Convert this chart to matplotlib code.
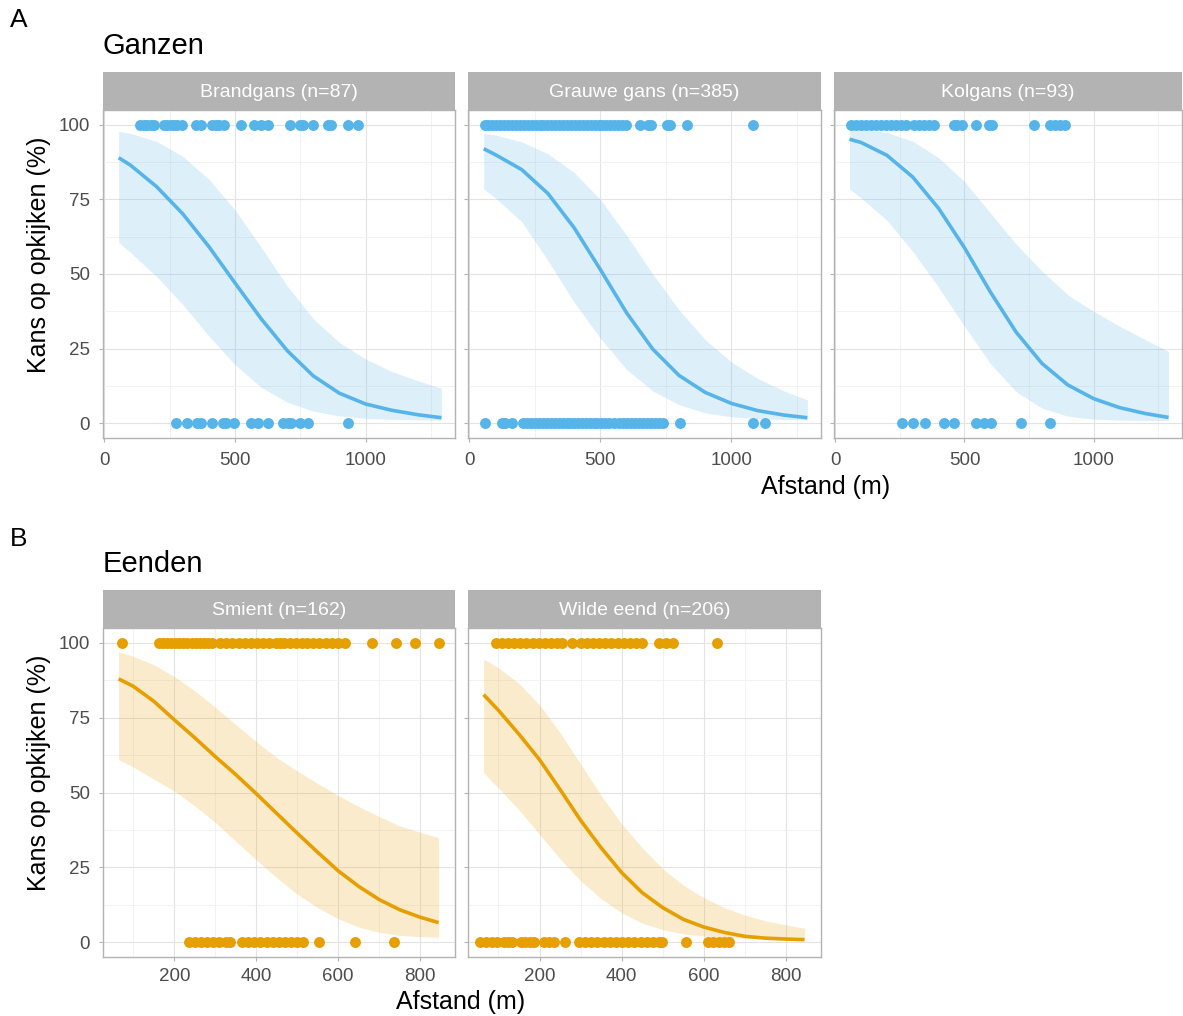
# Kans op opkijken vs afstand - ganzen en eenden (facetten)

import numpy as np
import matplotlib.pyplot as plt

plt.rcParams['font.family'] = ['Liberation Sans', 'DejaVu Sans']

blauw = '#56B4E9'
oranje = '#E69F00'

# ---- Ganzen ----
gans_namen = ['Brandgans (n=87)', 'Grauwe gans (n=385)', 'Kolgans (n=93)']
gans_x = [55, 100, 200, 300, 400, 500, 600, 700, 800, 900, 1000, 1100, 1200, 1290]

brand_fit = [89, 86.5, 79.3, 70.2, 59.2, 47, 35, 24.3, 15.8, 10, 6.4, 4.3, 2.8, 1.8]
brand_hoog = [97.8, 97.2, 94.5, 89.5, 81.8, 71.5, 59, 46, 35, 27, 21.5, 17.3, 14.2, 11.7]
brand_laag = [60.6, 57.2, 49.2, 39.8, 29.2, 19.6, 12, 7, 4, 2.4, 1.6, 1.25, 1.1, 1.0]
brand_ja = [138, 151, 164, 177, 190, 228, 241, 254, 267, 280, 299, 350, 369, 414, 427,
            440, 459, 523, 574, 600, 626, 709, 747, 760, 799, 856, 869, 933, 972]
brand_nee = [273, 315, 354, 369, 414, 453, 465, 497, 562, 587, 626, 683, 703, 715, 747, 780, 933]

grauw_fit = [92, 90, 85, 77, 65.5, 51.5, 37, 24.8, 16, 10.3, 6.6, 4.2, 2.7, 1.8]
grauw_hoog = [97.2, 96.6, 94.3, 90.3, 84, 75, 63, 50, 38, 28, 20.5, 15, 10.8, 7.8]
grauw_laag = [78.5, 75.5, 67.5, 54.5, 40.5, 28.5, 18, 10.8, 6.2, 3.4, 2.1, 1.5, 1.2, 1.1]
grauw_ja = [58, 73, 88, 103, 118, 133, 148, 163, 178, 193, 208, 223, 238, 253, 268, 283,
            298, 313, 328, 343, 358, 373, 388, 403, 418, 433, 448, 463, 478, 493, 508, 523,
            538, 553, 568, 583, 598, 650, 682, 695, 753, 766, 830, 1081]
grauw_nee = [58, 125, 135, 163, 206, 221, 236, 251, 266, 281, 296, 311, 326, 341, 356, 371,
             386, 401, 416, 431, 444, 459, 474, 489, 504, 519, 534, 553, 573, 588, 603, 618,
             633, 648, 663, 678, 693, 708, 723, 740, 804, 1081, 1130]

kol_fit = [95.2, 94.1, 89.8, 82.5, 72, 58.8, 44, 30.5, 20, 12.8, 8.2, 5.2, 3.2, 1.9]
kol_hoog = [98.9, 98.5, 97.5, 94.5, 89, 81, 70.5, 60, 51, 43, 37.5, 32.5, 28, 24]
kol_laag = [78.5, 75.5, 68, 57.5, 45.5, 32.5, 20, 10.5, 5, 2.3, 1.3, 1, 0.9, 0.8]
kol_ja = [60, 80, 99, 118, 138, 157, 176, 196, 215, 234, 254, 273, 305, 324, 344, 363, 382,
          459, 472, 492, 543, 595, 607, 768, 833, 852, 871, 891]
kol_nee = [260, 301, 346, 421, 459, 543, 575, 601, 717, 833]

# ---- Eenden ----
eend_namen = ['Smient (n=162)', 'Wilde eend (n=206)']
eend_x = [64, 100, 150, 200, 250, 300, 350, 400, 450, 500, 550, 600, 650, 700, 750, 800, 845]

smient_fit = [88, 85.5, 80.5, 74.3, 68.3, 62, 56, 49.6, 43, 36.4, 30, 23.8, 18.6, 14.2, 10.8, 8.3, 6.5]
smient_hoog = [97.1, 95.5, 92.7, 88.8, 84, 78.5, 72.7, 67, 61.7, 57.2, 53, 49, 45.3, 42, 38.8, 36.7, 34.9]
smient_laag = [61, 58.5, 54.5, 50.5, 45.5, 40, 33.7, 27.5, 21.5, 16, 11.5, 7.8, 5, 3.3, 2.2, 1.8, 1.6]
smient_ja = [72, 162, 172, 182, 192, 202, 212, 222, 232, 242, 252, 262, 272, 282, 292,
             312, 327, 342, 357, 372, 387, 402, 417, 432, 447, 459, 467, 482, 497, 511,
             524, 539, 554, 569, 584, 599, 617, 682, 741, 788, 845]
smient_nee = [235, 250, 265, 280, 295, 310, 325, 337, 365, 380, 395, 410, 425, 440, 455,
              470, 485, 500, 515, 552, 641, 735]

wilde_fit = [82.7, 77.5, 69.5, 61, 51, 40.7, 31.5, 23.2, 16.5, 11.5, 7.6, 5, 3.2, 1.9, 1.3, 1, 0.8]
wilde_hoog = [94.6, 91.7, 86.5, 79.3, 70, 59.5, 49, 39.5, 31.5, 24.5, 19, 14.8, 11.5, 9, 7.1, 5.7, 4.6]
wilde_laag = [56.6, 51.5, 44.2, 36, 27.8, 20.5, 14.5, 9.8, 6.3, 4.2, 2.7, 2, 1.5, 1.3, 1.1, 1, 1]
wilde_ja = [93, 108, 123, 138, 153, 168, 183, 198, 213, 228, 243, 255, 278, 300, 315, 330,
            345, 360, 375, 390, 405, 420, 435, 450, 491, 507, 524, 631]
wilde_nee = [56, 70, 84, 97, 113, 123, 133, 154, 165, 176, 186, 211, 223, 235, 263, 296,
             311, 326, 341, 356, 371, 386, 401, 416, 431, 446, 461, 476, 491, 499, 556,
             609, 622, 636, 649, 662]

W, H = 1183, 1016
fig = plt.figure(figsize=(W / 100, H / 100), dpi=100)


def px_axes(x0, y0, x1, y1):
    return fig.add_axes([x0 / W, 1 - y1 / H, (x1 - x0) / W, (y1 - y0) / H])


def paneel(box, naam, x, fit, laag, hoog, ja, nee, kleur, xlim, xmaj, xmin, show_y, xpad):
    x0, y0, x1, y1 = box
    ax = px_axes(x0, y0, x1, y1)
    ax.fill_between(x, laag, hoog, color=kleur, alpha=0.2, lw=0, zorder=1)
    ax.plot(x, fit, color=kleur, lw=2.6, zorder=2, solid_capstyle='butt',
            solid_joinstyle='round')
    ax.scatter(ja, [100] * len(ja), s=62, color=kleur, lw=0, zorder=3)
    ax.scatter(nee, [0] * len(nee), s=62, color=kleur, lw=0, zorder=3)
    ax.set_xlim(xlim)
    ax.set_ylim(-5, 105)
    ax.set_xticks(xmaj)
    ax.set_xticks(xmin, minor=True)
    ax.set_yticks([0, 25, 50, 75, 100])
    ax.set_yticks([12.5, 37.5, 62.5, 87.5], minor=True)
    ax.grid(which='major', color='#E3E3E3', lw=0.8, zorder=0)
    ax.grid(which='minor', color='#F0F0F0', lw=0.6, zorder=0)
    ax.set_axisbelow(True)
    for s in ax.spines.values():
        s.set_color('#B3B3B3')
        s.set_linewidth(1.0)
    ax.tick_params(which='major', length=3, width=0.8, color='#B3B3B3',
                   labelsize=13.5, labelcolor='#4D4D4D')
    ax.tick_params(axis='x', pad=xpad)
    ax.tick_params(axis='y', pad=6.5)
    ax.tick_params(which='minor', length=0)
    if not show_y:
        ax.tick_params(axis='y', labelleft=False)
    # strip
    st = px_axes(x0, y0 - 38, x1, y0)
    st.set_facecolor('#B3B3B3')
    st.set_xticks([])
    st.set_yticks([])
    for s in st.spines.values():
        s.set_visible(False)
    st.text(0.5, 0.46, naam, color='white', fontsize=14, ha='center', va='center',
            transform=st.transAxes)
    return ax


top_xlim = (-5, 1342)
top_maj = [0, 500, 1000]
top_min = [250, 750, 1250]
paneel((103, 110, 455, 438), gans_namen[0], gans_x, brand_fit, brand_laag, brand_hoog,
       brand_ja, brand_nee, blauw, top_xlim, top_maj, top_min, True, 7)
paneel((468, 110, 821, 438), gans_namen[1], gans_x, grauw_fit, grauw_laag, grauw_hoog,
       grauw_ja, grauw_nee, blauw, top_xlim, top_maj, top_min, False, 7)
paneel((834, 110, 1182, 438), gans_namen[2], gans_x, kol_fit, kol_laag, kol_hoog,
       kol_ja, kol_nee, blauw, top_xlim, top_maj, top_min, False, 7)

bot_xlim = (26, 885)
bot_maj = [200, 400, 600, 800]
bot_min = [100, 300, 500, 700]
paneel((103, 628, 455, 957), eend_namen[0], eend_x, smient_fit, smient_laag, smient_hoog,
       smient_ja, smient_nee, oranje, bot_xlim, bot_maj, bot_min, True, 5)
paneel((468, 628, 821, 957), eend_namen[1], eend_x, wilde_fit, wilde_laag, wilde_hoog,
       wilde_ja, wilde_nee, oranje, bot_xlim, bot_maj, bot_min, False, 5)

# titels en labels
fig.text(10 / W, 1 - 8 / H, 'A', fontsize=19, ha='left', va='top')
fig.text(103 / W, 1 - 54 / H, 'Ganzen', fontsize=21, ha='left', va='baseline')
fig.text(10 / W, 1 - 527 / H, 'B', fontsize=19, ha='left', va='top')
fig.text(103 / W, 1 - 572 / H, 'Eenden', fontsize=21, ha='left', va='baseline')

fig.text(39 / W, 1 - 255 / H, 'Kans op opkijken (%)', fontsize=18, rotation=90,
         ha='center', va='center')
fig.text(39 / W, 1 - 773 / H, 'Kans op opkijken (%)', fontsize=18, rotation=90,
         ha='center', va='center')
fig.text(826 / W, 1 - 487 / H, 'Afstand (m)', fontsize=18, ha='center', va='center')
fig.text(461 / W, 1 - 1002 / H, 'Afstand (m)', fontsize=18, ha='center', va='center')

plt.savefig('out.png', dpi=100, facecolor='white')
